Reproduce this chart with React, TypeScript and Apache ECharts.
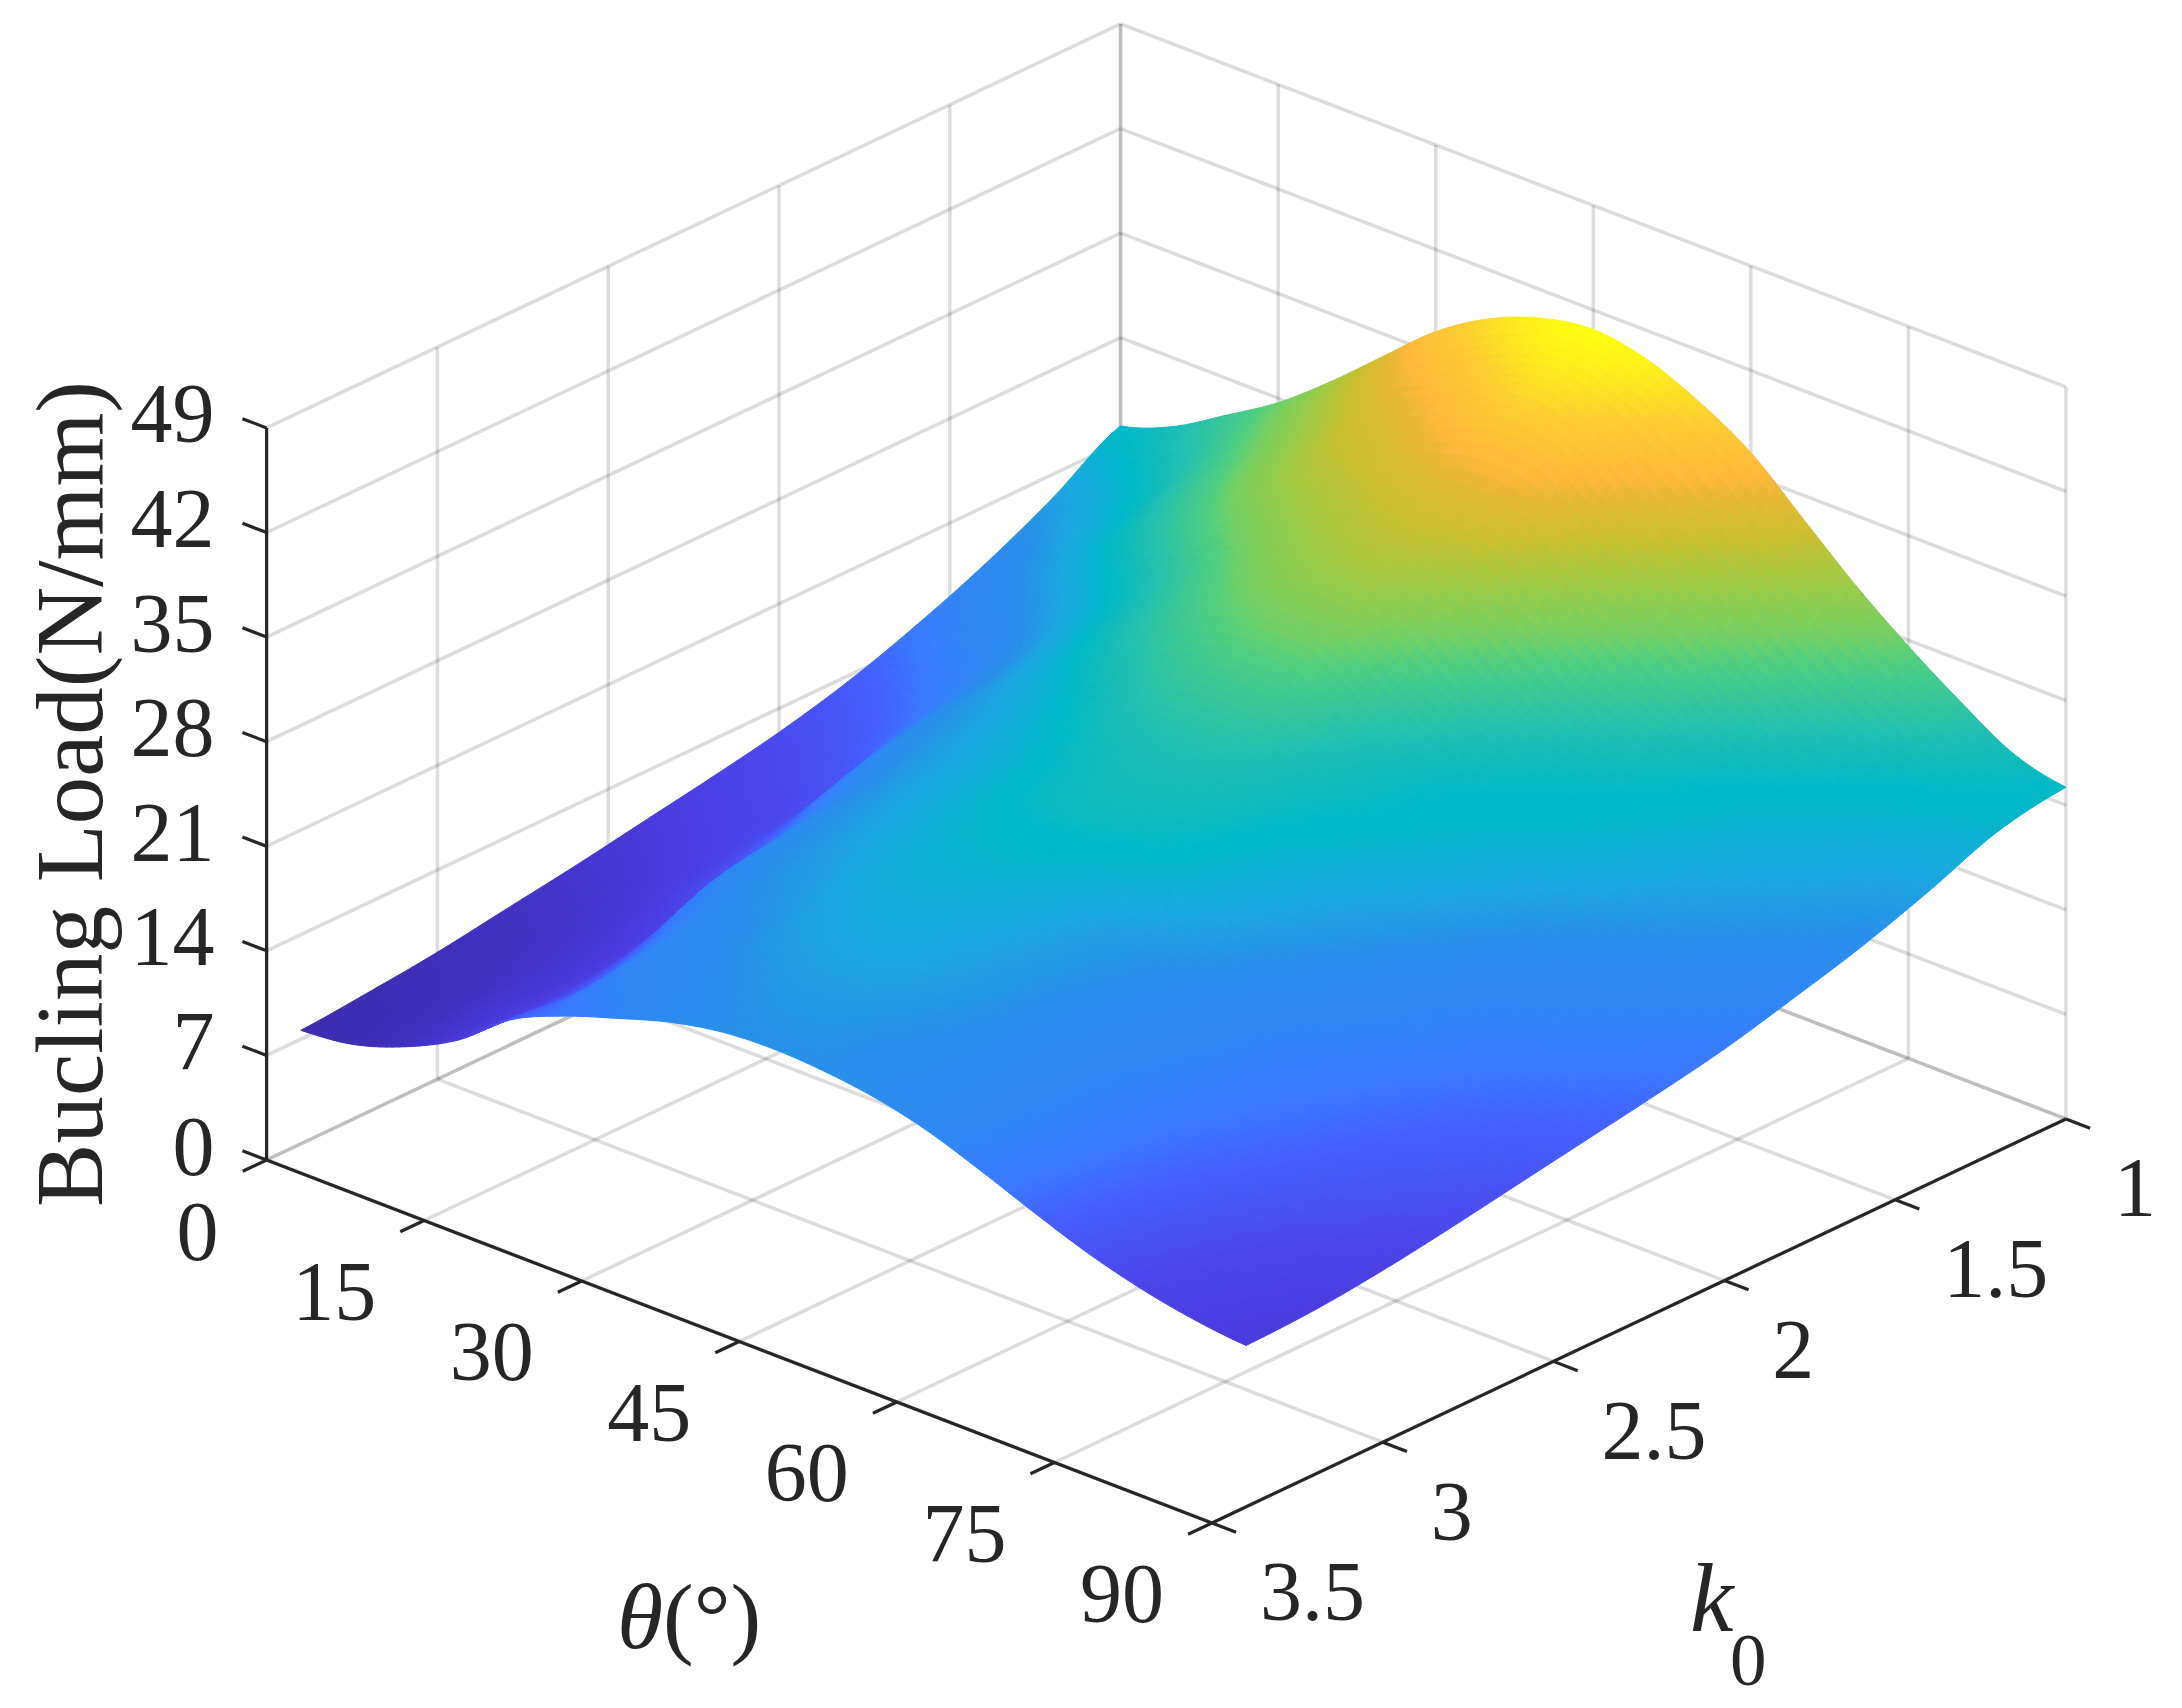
import { useEffect, useRef } from 'react'
import * as echarts from 'echarts'

// tick labels
const thetaTicks = [0, 15, 30, 45, 60, 75, 90]
const kTicks = [1, 1.5, 2, 2.5, 3, 3.5]
const zTicks = [0, 7, 14, 21, 28, 35, 42, 49]

// surface grid, values
const thetaGrid = [0, 5, 10, 15, 20, 25, 30, 35, 40, 45, 50, 55, 60, 65, 70, 75, 80, 85, 90]
const kGrid = [1, 1.2, 1.4, 1.6, 1.8, 2, 2.2, 2.4, 2.6, 2.8, 3, 3.2, 3.4]

const loadK10 = [22.1, 23.4, 25.5, 27.7, 30.45, 33.5, 36.5, 38.7, 40.1, 40.7, 40.1, 38.6, 36.5, 33.4, 30.3, 27.6, 25.2, 23.1, 22.2]
const loadK12 = [19.4, 21.0, 23.0, 25.8, 28.4, 31.0, 33.4, 35.0, 37.0, 38.4, 37.5, 35.0, 32.0, 29.0, 26.3, 24.1, 22.6, 21.9, 21.4]
const loadK14 = [17.1, 18.8, 21.0, 23.6, 26.2, 28.8, 31.0, 32.2, 33.2, 33.8, 33.4, 30.2, 27.2, 25.0, 23.0, 22.0, 21.2, 20.3, 19.6]
const loadK16 = [15.2, 16.6, 18.2, 20.4, 22.8, 25.2, 27.6, 29.6, 30.8, 31.0, 28.5, 25.8, 23.7, 22.6, 21.9, 21.0, 20.0, 19.0, 18.0]
const loadK18 = [13.6, 14.5, 16.0, 18.6, 21.0, 23.2, 25.2, 26.8, 27.8, 27.4, 24.9, 23.1, 22.2, 21.8, 21.0, 19.6, 18.6, 17.6, 16.7]
const loadK20 = [12.4, 13.0, 14.4, 17.8, 19.6, 21.2, 22.8, 24.3, 25.0, 24.8, 23.4, 22.5, 21.7, 20.6, 19.0, 17.8, 17.0, 16.2, 15.5]
const loadK22 = [11.5, 12.0, 12.8, 16.8, 18.8, 20.2, 21.4, 22.6, 23.4, 23.4, 22.8, 21.6, 20.3, 18.9, 17.5, 16.4, 15.8, 15.2, 14.6]
const loadK24 = [10.7, 11.1, 12.0, 15.0, 18.0, 19.6, 20.8, 22.0, 22.6, 22.6, 22.0, 20.5, 18.9, 17.6, 16.5, 15.6, 14.8, 14.2, 13.8]
const loadK26 = [9.9, 10.3, 11.2, 13.6, 17.4, 19.0, 20.2, 21.2, 21.6, 21.2, 19.8, 18.7, 17.8, 16.6, 15.6, 14.9, 14.1, 13.5, 13.0]
const loadK28 = [9.2, 9.5, 10.4, 12.0, 16.6, 18.4, 19.4, 20.5, 20.7, 20.2, 19.2, 18.2, 17.2, 16.2, 15.2, 14.4, 13.5, 12.9, 12.2]
const loadK30 = [8.5, 8.9, 9.9, 11.2, 14.5, 17.4, 18.4, 19.5, 20.0, 19.8, 18.9, 18.0, 16.9, 15.9, 14.8, 13.8, 12.9, 12.1, 11.5]
const loadK32 = [8.0, 8.3, 9.6, 11.0, 13.5, 16.5, 17.4, 18.4, 19.0, 19.0, 18.4, 17.9, 17.0, 15.8, 14.5, 13.3, 12.3, 11.5, 11.0]
const loadK34 = [7.6, 8.0, 9.2, 11.0, 13.7, 15.3, 16.5, 17.6, 18.3, 18.5, 18.3, 17.8, 16.9, 15.6, 14.2, 12.9, 11.9, 11.2, 10.8]
const loadRows = [loadK10, loadK12, loadK14, loadK16, loadK18, loadK20, loadK22, loadK24, loadK26, loadK28, loadK30, loadK32, loadK34]

// colormap: load value -> colour
const colourZ = [7, 9, 11, 12.5, 14, 15, 16.5, 18.4, 20, 22, 24, 27, 28, 30.5, 32.5, 34.5, 35.5, 38, 40.7]
const colourHex = ['#3b2ba8', '#4030c0', '#4a3ce0', '#4a4cf0', '#4460ff', '#3a78ff', '#3085f5', '#2890ea', '#1aa8e0', '#00b8c8', '#20bfb0', '#50cf80', '#70cf65', '#9ecb45', '#c8c030', '#e8b835', '#ffb83a', '#fcd030', '#ffff10']

const FONT = '"Liberation Serif", "Times New Roman", serif'
const INK = '#262626'
const SUB = 8 // sub-cells per grid cell when shading

// fixed view of the box, picture units per data unit
function project(theta: number, k: number, z: number): [number, number] {
  const m = 3.5 - k
  return [266.6 + theta * 10.504 + m * 341.6, 1160 + theta * 4.033 - m * 161.6 - z * 14.94]
}

function hexRgb(h: string) {
  return [1, 3, 5].map(i => parseInt(h.slice(i, i + 2), 16))
}

function colourFor(z: number) {
  let i = 0
  while (i < colourZ.length - 2 && z > colourZ[i + 1]) i++
  const t = Math.min(1, Math.max(0, (z - colourZ[i]) / (colourZ[i + 1] - colourZ[i])))
  const a = hexRgb(colourHex[i])
  const b = hexRgb(colourHex[i + 1])
  return `rgb(${a.map((v, n) => Math.round(v + (b[n] - v) * t)).join(',')})`
}

// interp shading between the read grid values
function spline(p0: number, p1: number, p2: number, p3: number, t: number) {
  return 0.5 * (2 * p1 + (p2 - p0) * t + (2 * p0 - 5 * p1 + 4 * p2 - p3) * t * t + (3 * p1 - p0 - 3 * p2 + p3) * t * t * t)
}

function loadAt(i: number, j: number, u: number, v: number) {
  const row = (n: number) => loadRows[Math.max(0, Math.min(loadRows.length - 1, n))]
  const col = (r: number[], n: number) => r[Math.max(0, Math.min(r.length - 1, n))]
  const across = (n: number) => {
    const r = row(n)
    return spline(col(r, i - 1), col(r, i), col(r, i + 1), col(r, i + 2), u)
  }
  return spline(across(j - 1), across(j), across(j + 1), across(j + 2), v)
}

type Cell = { corners: [number, number, number][]; z: number }
const cells: Cell[] = []
for (let i = 0; i < thetaGrid.length - 1; i++) {
  for (let si = 0; si < SUB; si++) {
    for (let j = 0; j < kGrid.length - 1; j++) {
      for (let sj = 0; sj < SUB; sj++) {
        const t0 = thetaGrid[i] + ((thetaGrid[i + 1] - thetaGrid[i]) * si) / SUB
        const t1 = thetaGrid[i] + ((thetaGrid[i + 1] - thetaGrid[i]) * (si + 1)) / SUB
        const k0 = kGrid[j] + ((kGrid[j + 1] - kGrid[j]) * sj) / SUB
        const k1 = kGrid[j] + ((kGrid[j + 1] - kGrid[j]) * (sj + 1)) / SUB
        const z00 = loadAt(i, j, si / SUB, sj / SUB)
        const z10 = loadAt(i, j, (si + 1) / SUB, sj / SUB)
        const z11 = loadAt(i, j, (si + 1) / SUB, (sj + 1) / SUB)
        const z01 = loadAt(i, j, si / SUB, (sj + 1) / SUB)
        cells.push({
          corners: [[t0, k0, z00], [t1, k0, z10], [t1, k1, z11], [t0, k1, z01]],
          z: (z00 + z10 + z11 + z01) / 4,
        })
      }
    }
  }
}

type P3 = [number, number, number]
const gridLines: [P3, P3][] = []
zTicks.forEach(z => {
  gridLines.push([[0, 3.5, z], [0, 1, z]], [[0, 1, z], [90, 1, z]])
})
kTicks.forEach(k => {
  gridLines.push([[0, k, 0], [0, k, 49]], [[0, k, 0], [90, k, 0]])
})
thetaTicks.forEach(t => {
  gridLines.push([[t, 1, 0], [t, 1, 49]], [[t, 1, 0], [t, 3.5, 0]])
})

const axisLines: [P3, P3][] = [
  [[0, 3.5, 0], [0, 3.5, 49]],
  [[0, 3.5, 0], [90, 3.5, 0]],
  [[90, 3.5, 0], [90, 1, 0]],
]
zTicks.forEach(z => axisLines.push([[0, 3.5, z], [-2.3, 3.5, z]]))
thetaTicks.forEach(t => axisLines.push([[t, 3.5, 0], [t, 3.57, 0]]))
kTicks.forEach(k => axisLines.push([[90, k, 0], [92.3, k, 0]]))

const tickLabels = [
  ...zTicks.map(z => ({ text: String(z), at: [0, 3.5, z] as P3, dx: -52, dy: -14, align: 'right' })),
  ...thetaTicks.map(t => ({ text: String(t), at: [t, 3.5, 0] as P3, dx: -48, dy: 71, align: 'right' })),
  ...kTicks.map(k => ({ text: String(k), at: [90, k, 0] as P3, dx: 48, dy: 69, align: 'left' })),
]

function lineSeries(lines: [P3, P3][], stroke: string, width: number): any {
  return {
    type: 'custom',
    coordinateSystem: 'cartesian2d',
    silent: true,
    clip: false,
    progressive: 0,
    data: lines.map((_, i) => [i, 0]),
    renderItem(params: any, api: any) {
      const [a, b] = lines[params.dataIndex]
      const p = api.coord(project(a[0], a[1], a[2]))
      const q = api.coord(project(b[0], b[1], b[2]))
      return {
        type: 'line',
        shape: { x1: p[0], y1: p[1], x2: q[0], y2: q[1] },
        style: { stroke, lineWidth: width, fill: 'none' },
      }
    },
  }
}

export default function App() {
  const chartRef = useRef<HTMLDivElement>(null)

  useEffect(() => {
    if (!chartRef.current) return
    const chart = echarts.init(chartRef.current, undefined, { renderer: 'svg' })

    chart.setOption({
      animation: false,
      backgroundColor: '#ffffff',
      grid: { left: 0, right: 0, top: 0, bottom: 0 },
      xAxis: { type: 'value', min: 0, max: 2182, show: false },
      yAxis: { type: 'value', min: 0, max: 1708, inverse: true, show: false },
      series: [
        lineSeries(gridLines, 'rgba(38,38,38,0.16)', 3.5),
        // surface, painted from the back corner forward
        {
          type: 'custom',
          coordinateSystem: 'cartesian2d',
          silent: true,
          clip: false,
          progressive: 0,
          data: cells.map((_, i) => [i, 0]),
          renderItem(params: any, api: any) {
            const c = cells[params.dataIndex]
            const colour = colourFor(c.z)
            return {
              type: 'polygon',
              shape: { points: c.corners.map(p => api.coord(project(p[0], p[1], p[2]))) },
              style: { fill: colour, stroke: colour, lineWidth: 1 },
            }
          },
        },
        lineSeries(axisLines, INK, 3.2),
        {
          type: 'custom',
          coordinateSystem: 'cartesian2d',
          silent: true,
          clip: false,
          data: tickLabels.map((_, i) => [i, 0]),
          renderItem(params: any, api: any) {
            const l = tickLabels[params.dataIndex]
            const p = api.coord(project(l.at[0], l.at[1], l.at[2]))
            return {
              type: 'text',
              x: p[0] + l.dx,
              y: p[1] + l.dy,
              style: {
                text: l.text,
                fill: INK,
                fontSize: 84,
                fontFamily: FONT,
                align: l.align,
                verticalAlign: 'middle',
              },
            }
          },
        },
      ],
      graphic: [
        {
          type: 'text',
          x: 70,
          y: 794,
          rotation: Math.PI / 2,
          style: {
            text: 'Bucling Load(N/mm)',
            fill: INK,
            fontSize: 95,
            fontFamily: FONT,
            align: 'center',
            verticalAlign: 'middle',
          },
        },
        {
          type: 'text',
          x: 617,
          y: 1616,
          style: { text: 'θ', fill: INK, fontSize: 94, fontFamily: FONT, fontStyle: 'italic', align: 'left', verticalAlign: 'middle' },
        },
        {
          type: 'text',
          x: 663,
          y: 1616,
          style: { text: '(°)', fill: INK, fontSize: 92, fontFamily: FONT, align: 'left', verticalAlign: 'middle' },
        },
        {
          type: 'text',
          x: 1690,
          y: 1598,
          style: { text: 'k', fill: INK, fontSize: 98, fontFamily: FONT, fontStyle: 'italic', align: 'left', verticalAlign: 'middle' },
        },
        {
          type: 'text',
          x: 1730,
          y: 1660,
          style: { text: '0', fill: INK, fontSize: 73, fontFamily: FONT, align: 'left', verticalAlign: 'middle' },
        },
      ],
    })

    return () => {
      chart.dispose()
    }
  }, [])

  return (
    <div
      ref={chartRef}
      style={{ position: 'fixed', left: 0, top: 0, width: 2182, height: 1708, background: '#fff' }}
    />
  )
}
